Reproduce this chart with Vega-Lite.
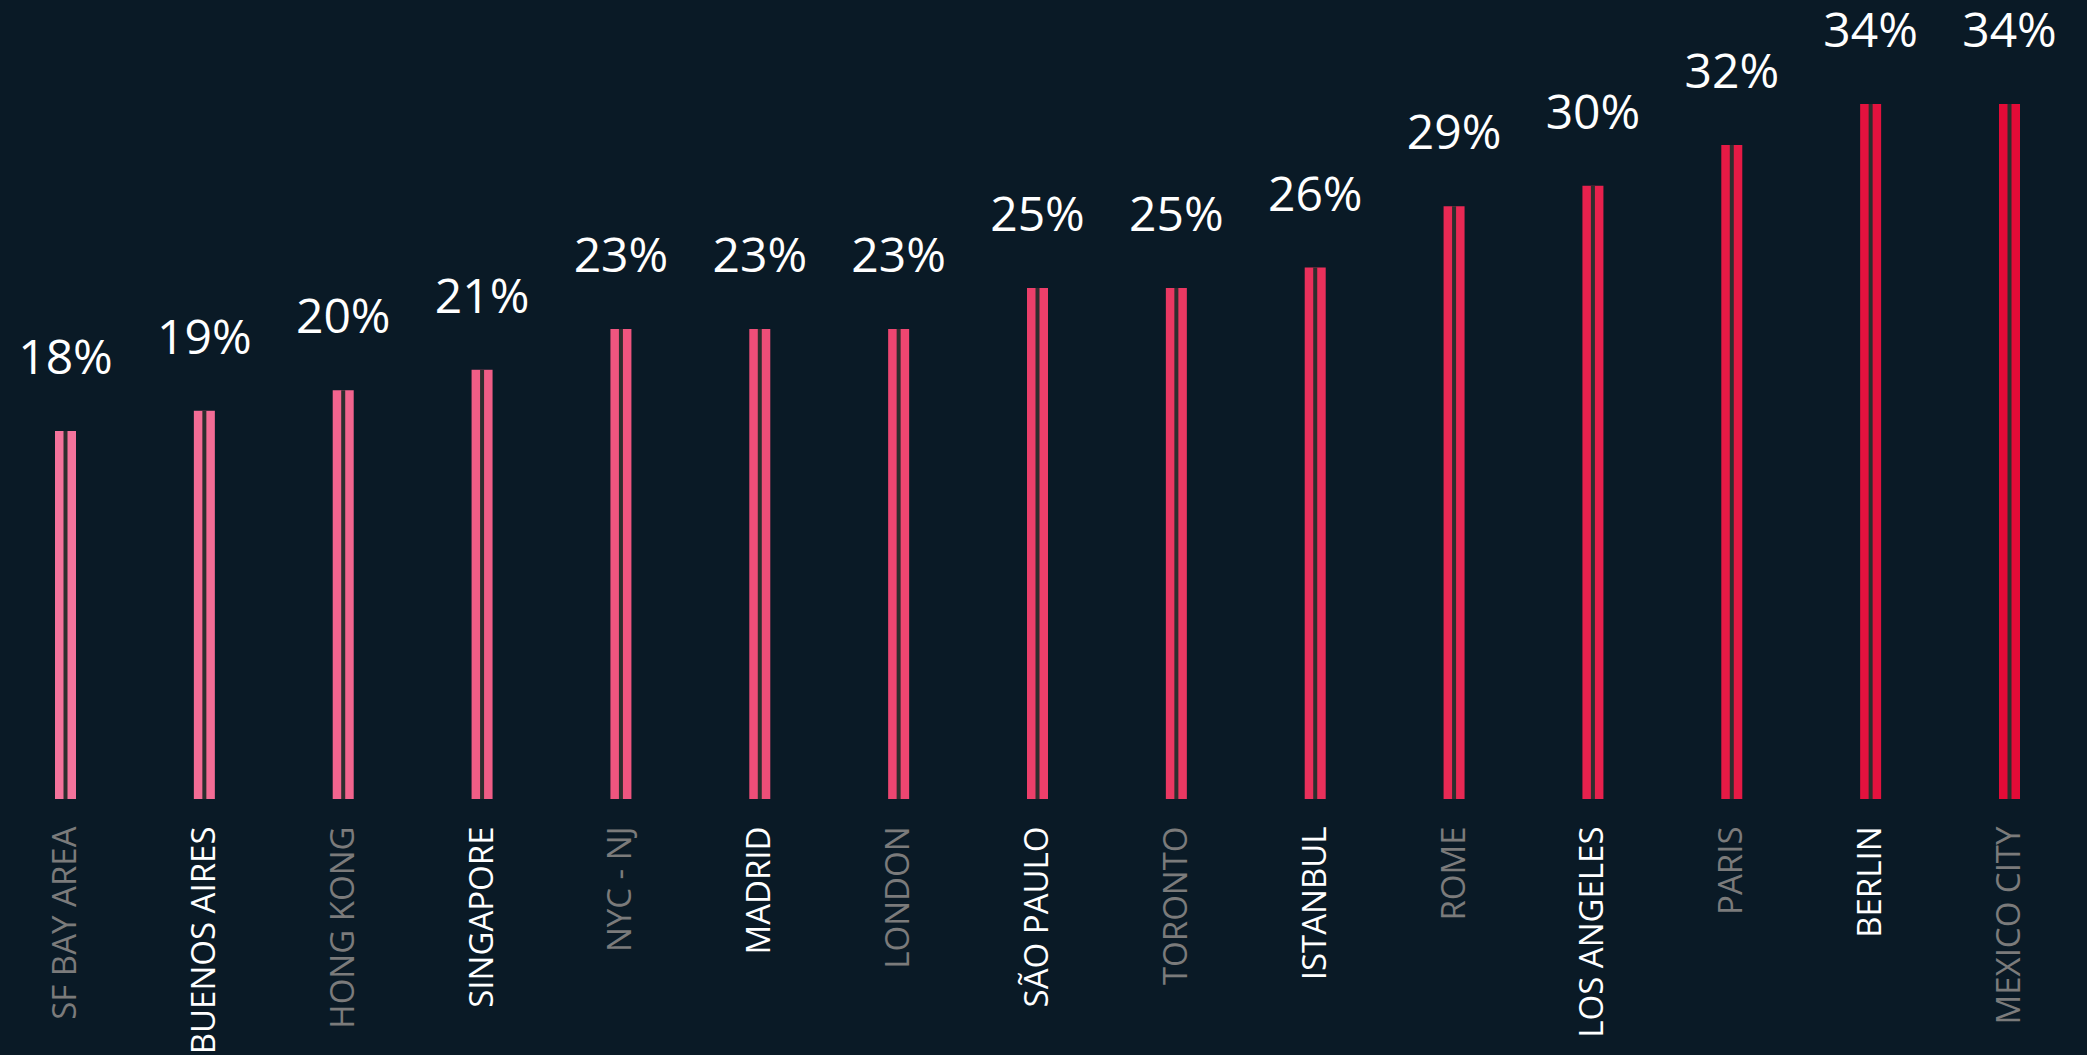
{
  "$schema": "https://vega.github.io/schema/vega-lite/v6.json",
  "width": 2087,
  "height": 799,
  "autosize": "none",
  "padding": {"left": 0, "top": 0, "right": 0, "bottom": 256},
  "background": "#0a1a26",
  "config": {"view": {"stroke": null}},
  "data": {
    "values": [
      {"city": "SF BAY AREA", "v": 18, "label": "18%"},
      {"city": "BUENOS AIRES", "v": 19, "label": "19%"},
      {"city": "HONG KONG", "v": 20, "label": "20%"},
      {"city": "SINGAPORE", "v": 21, "label": "21%"},
      {"city": "NYC - NJ", "v": 23, "label": "23%"},
      {"city": "MADRID", "v": 23, "label": "23%"},
      {"city": "LONDON", "v": 23, "label": "23%"},
      {"city": "SÃO PAULO", "v": 25, "label": "25%"},
      {"city": "TORONTO", "v": 25, "label": "25%"},
      {"city": "ISTANBUL", "v": 26, "label": "26%"},
      {"city": "ROME", "v": 29, "label": "29%"},
      {"city": "LOS ANGELES", "v": 30, "label": "30%"},
      {"city": "PARIS", "v": 32, "label": "32%"},
      {"city": "BERLIN", "v": 34, "label": "34%"},
      {"city": "MEXICO CITY", "v": 34, "label": "34%"}
    ]
  },
  "encoding": {
    "x": {
      "field": "city",
      "type": "nominal",
      "sort": null,
      "scale": {"type": "point", "padding": 0, "range": [65.5, 2009.5]},
      "axis": {
        "title": null,
        "domain": false,
        "ticks": false,
        "labelAngle": -90,
        "labelAlign": "right",
        "labelBaseline": "middle",
        "labelPadding": 27,
        "labelFont": "Open Sans",
        "labelFontSize": 33,
        "labelLimit": 0,
        "labelOverlap": false,
        "labelColor": {
          "condition": {
            "test": "indexof(['SF BAY AREA','HONG KONG','NYC - NJ','LONDON','TORONTO','ROME','PARIS','MEXICO CITY'], datum.value) >= 0",
            "value": "#7b7b7b"
          },
          "value": "#ffffff"
        }
      }
    },
    "y": {
      "field": "v",
      "type": "quantitative",
      "scale": {"domain": [0, 39.09], "nice": false},
      "axis": null
    }
  },
  "layer": [
    {
      "mark": {"type": "bar", "width": 21},
      "encoding": {
        "color": {
          "field": "city",
          "type": "nominal",
          "sort": null,
          "legend": null,
          "scale": {
            "range": ["#f4739c", "#f36c95", "#f2648e", "#f05d86", "#ef557f", "#ee4e78", "#ed4671", "#ec3f6a", "#ea3862", "#e9305b", "#e82954", "#e7214d", "#e51a45", "#e4123e", "#e30b37"]
          }
        }
      }
    },
    {
      "mark": {"type": "bar", "width": 4, "color": "#2e2e2e"}
    },
    {
      "mark": {
        "type": "text",
        "color": "#ffffff",
        "font": "Open Sans",
        "fontSize": 48,
        "baseline": "alphabetic",
        "align": "center",
        "dy": -57
      },
      "encoding": {"text": {"field": "label"}}
    }
  ]
}
